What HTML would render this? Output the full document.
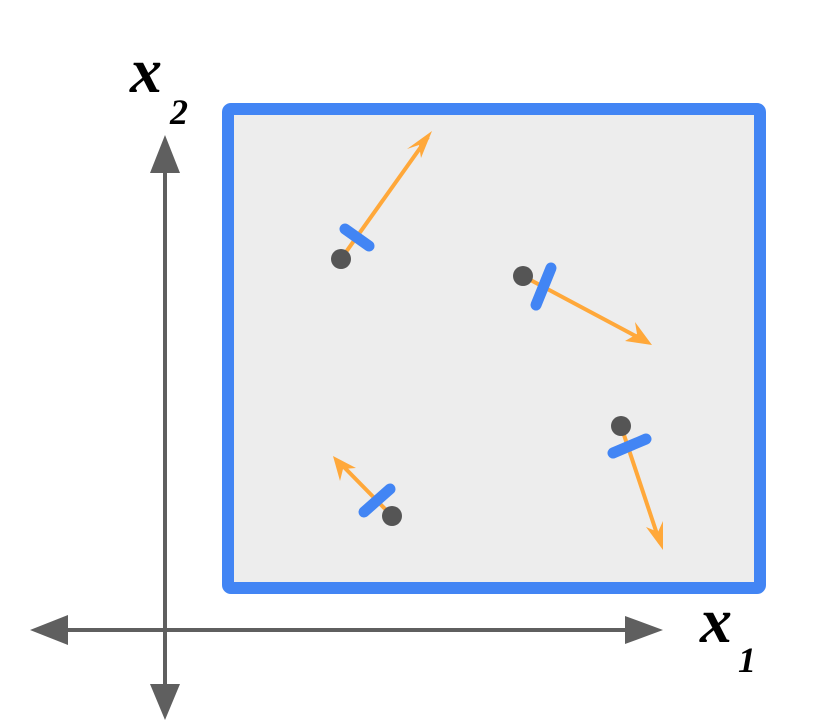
<!DOCTYPE html>
<html><head><meta charset="utf-8"><style>html,body{margin:0;padding:0;background:#fff}svg{display:block}</style></head>
<body>
<svg width="825" height="720" viewBox="0 0 825 720" xmlns="http://www.w3.org/2000/svg">
<rect x="228" y="109" width="532" height="479" rx="3" fill="#ededed" stroke="#4285f4" stroke-width="12"/>
<!-- axes -->
<g fill="#5f5f5f" stroke="#5f5f5f">
<line x1="165" y1="160" x2="165" y2="700" stroke-width="4"/>
<line x1="55" y1="630" x2="640" y2="630" stroke-width="4"/>
</g>
<g fill="#5f5f5f">
<polygon points="165,135 150,173 180,173"/>
<polygon points="165,720 150,684 180,684"/>
<polygon points="30,630 68,615 68,645"/>
<polygon points="663,630 625,616 625,644"/>
</g>
<!-- vectors -->
<g stroke="#ffa83a" stroke-width="4" fill="none">
<line x1="341" y1="259" x2="428" y2="137"/>
<line x1="523" y1="276" x2="645" y2="341"/>
<line x1="621" y1="426" x2="660" y2="543"/>
<line x1="392" y1="516" x2="338" y2="461"/>
</g>
<g fill="#ffa83a">
<polygon points="432,131 407,149 419,145 421,158"/>
<polygon points="652,345 635,322 637,334 625,341"/>
<polygon points="663,550 663,521 658,532 646,527"/>
<polygon points="333,456 340,481 343,469 356,468"/>
</g>
<g stroke="#4285f4" stroke-width="11" stroke-linecap="round">
<line x1="345" y1="229" x2="369" y2="246"/>
<line x1="551" y1="268" x2="536" y2="305"/>
<line x1="613" y1="453" x2="646" y2="439"/>
<line x1="364" y1="512" x2="390" y2="489"/>
</g>
<g fill="#555">
<circle cx="341" cy="259" r="10"/>
<circle cx="523" cy="276" r="10"/>
<circle cx="621" cy="426" r="10"/>
<circle cx="392" cy="516" r="10"/>
</g>
<!-- labels -->
<g font-family="'Liberation Serif', serif" font-style="italic" font-weight="bold" fill="#000">
<text x="130" y="92" font-size="64">x</text>
<text x="170" y="124" font-size="36">2</text>
<text x="700" y="642" font-size="64">x</text>
<text x="738" y="672" font-size="36">1</text>
</g>
</svg>
</body></html>
